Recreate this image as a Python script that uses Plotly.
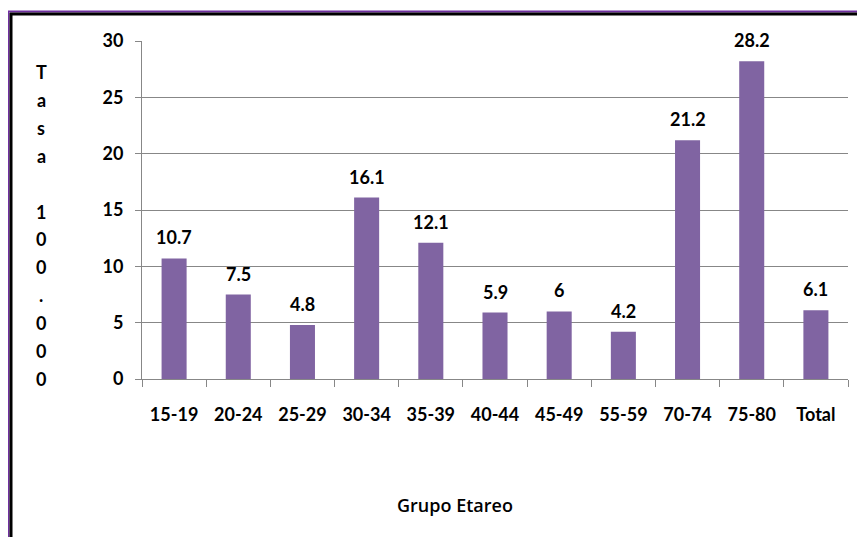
import plotly.graph_objects as go

categories = ["15-19", "20-24", "25-29", "30-34", "35-39", "40-44", "45-49", "55-59", "70-74", "75-80", "Total"]
values = [10.7, 7.5, 4.8, 16.1, 12.1, 5.9, 6, 4.2, 21.2, 28.2, 6.1]
y_title_chars = list("Tasa 100.000")
x_title = "Grupo Etareo"
y_ticks = [0, 5, 10, 15, 20, 25, 30]

FONT = "Lato"
FS = 18
BAR = "#8064A2"
GRID = "#878787"

# page offset of the figure inside the browser page (body margin)
OFF = 8
W, H = 865, 537
PL, PR, PT, PB = 142, 848, 41, 379   # plot area in page pixels
L = PL - OFF
T = PT - OFF
R = W - (PR - OFF)
B = H - (PB - OFF)
pw, ph = PR - PL, PB - PT

def px_to_paper_x(px):
    return (px - PL) / pw

def px_to_paper_y(py):
    return 1 - (py - PT) / ph

fig = go.Figure()
fig.add_trace(go.Bar(
    x=categories, y=values, marker=dict(color=BAR, line=dict(width=0)),
    hoverinfo="x+y",
))

annotations = []
for c, v in zip(categories, values):
    annotations.append(dict(
        x=c, y=v, xref="x", yref="y", text=f"{v:g}", showarrow=False,
        yanchor="bottom", yshift=8,
        font=dict(family=FONT, size=FS, color="#000000", weight="bold"),
    ))

start_y, step = 72, 27.9
for i, ch in enumerate(y_title_chars):
    if ch.strip() == "":
        continue
    annotations.append(dict(
        x=px_to_paper_x(41), y=px_to_paper_y(start_y + i * step),
        xref="paper", yref="paper", text=ch, showarrow=False,
        xanchor="center", yanchor="middle",
        font=dict(family=FONT, size=FS, color="#000000", weight="bold"),
    ))

annotations.append(dict(
    x=px_to_paper_x(455), y=px_to_paper_y(505), xref="paper", yref="paper",
    text=x_title, showarrow=False, xanchor="center", yanchor="middle",
    font=dict(family="Open Sans", size=18, color="#000000", weight=600),
))

shapes = [
    dict(type="line", xref="paper", yref="paper",
         x0=px_to_paper_x(8.5), x1=px_to_paper_x(8.5),
         y0=px_to_paper_y(11), y1=px_to_paper_y(560),
         line=dict(color="#7030A0", width=2)),
    dict(type="line", xref="paper", yref="paper",
         x0=px_to_paper_x(8), x1=px_to_paper_x(900),
         y0=px_to_paper_y(11.5), y1=px_to_paper_y(11.5),
         line=dict(color="#7030A0", width=2)),
    dict(type="line", xref="paper", yref="paper",
         x0=px_to_paper_x(11), x1=px_to_paper_x(11),
         y0=px_to_paper_y(13), y1=px_to_paper_y(560),
         line=dict(color="#000000", width=3)),
    dict(type="line", xref="paper", yref="paper",
         x0=px_to_paper_x(10), x1=px_to_paper_x(900),
         y0=px_to_paper_y(14), y1=px_to_paper_y(14),
         line=dict(color="#000000", width=3)),
]

fig.update_layout(
    width=W, height=H,
    margin=dict(l=L, r=R, t=T, b=B, pad=0),
    paper_bgcolor="white", plot_bgcolor="white",
    bargap=0.61,
    showlegend=False,
    annotations=annotations,
    shapes=shapes,
    xaxis=dict(
        type="category", showgrid=False, showline=True, linecolor=GRID, linewidth=1,
        ticks="outside", tickson="boundaries", ticklen=7, tickcolor=GRID, tickwidth=1,
        ticklabelstandoff=19,
        tickfont=dict(family=FONT, size=FS, color="#000000", weight="bold"),
        fixedrange=True,
    ),
    yaxis=dict(
        range=[0, 30], tickvals=y_ticks, showgrid=True, gridcolor=GRID, gridwidth=1,
        showline=True, linecolor=GRID, linewidth=1, zeroline=False,
        ticks="outside", ticklen=6, tickcolor=GRID, tickwidth=1,
        ticklabelstandoff=8,
        tickfont=dict(family=FONT, size=FS, color="#000000", weight="bold"),
        fixedrange=True,
    ),
)

fig.write_html("out.html", config={"displayModeBar": False})
